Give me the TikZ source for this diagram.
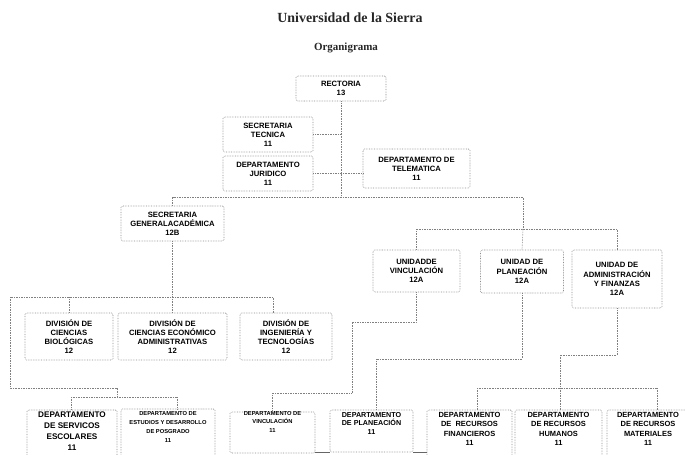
\documentclass[tikz,border=0pt]{standalone}
\usepackage{fontspec}
\setmainfont{Liberation Serif}
\setsansfont{Liberation Sans}
\begin{document}
\begin{tikzpicture}[x=1bp,y=-1bp,
 box/.style={draw=black!45, densely dotted, line width=0.65pt, rounded corners=1.5pt, align=center, inner sep=1pt, font=\sffamily\bfseries\fontsize{7.7}{9.2}\selectfont},
 boxtext/.style={align=center, inner sep=0pt, anchor=north},
 conn/.style={draw=black!50, densely dotted, line width=0.65pt}]
\clip (0,0) rectangle (685,455);
\fill[white] (0,0) rectangle (685,455);
% titles
\node[font=\bfseries\fontsize{14}{16}\selectfont, text=black!85] (title) at (350,18) {Universidad de la Sierra};
\node[font=\bfseries\fontsize{11}{13}\selectfont, text=black!85] (sub) at (346,48) {Organigrama};
% top level
\node[box, minimum width=90bp, minimum height=25bp] (rect) at (341,88.5) {RECTORIA\\13};
\node[box, minimum width=90bp, minimum height=35bp] (stec) at (268,134.5) {SECRETARIA\\TECNICA\\11};
\node[box, minimum width=90bp, minimum height=35bp] (jur) at (268,173.5) {DEPARTAMENTO\\JURIDICO\\11};
\node[box, minimum width=107bp, minimum height=39bp] (tel) at (416.5,168.5) {DEPARTAMENTO DE\\TELEMATICA\\11};
\node[box, minimum width=103bp, minimum height=35bp] (sga) at (172.5,223.5) {SECRETARIA\\GENERALACADÉMICA\\12B};
% units
\node[box, minimum width=87bp, minimum height=42bp] (uv) at (416.5,271) {UNIDADDE\\VINCULACIÓN\\12A};
\node[box, minimum width=83bp, minimum height=43bp] (up) at (522,271.5) {UNIDAD DE\\PLANEACIÓN\\12A};
\node[box, minimum width=90bp, minimum height=58bp] (ua) at (617,279) {UNIDAD DE\\ADMINISTRACIÓN\\Y FINANZAS\\12A};
% divisions
\node[box, minimum width=88bp, minimum height=47bp] (db) at (69,336.5) {DIVISIÓN DE\\CIENCIAS\\BIOLÓGICAS\\12};
\node[box, minimum width=109bp, minimum height=47bp] (de) at (172.5,336.5) {DIVISIÓN DE\\CIENCIAS ECONÓMICO\\ADMINISTRATIVAS\\12};
\node[box, minimum width=92bp, minimum height=47bp] (di) at (286,336.5) {DIVISIÓN DE\\INGENIERÍA Y\\TECNOLOGÍAS\\12};
% bottom departments
\node[box, minimum width=90bp, minimum height=52bp] (dse) at (72,436) {};
\node[boxtext, font=\sffamily\bfseries\fontsize{8.2}{11}\selectfont] (dset) at (72,412) {DEPARTAMENTO\\DE SERVICOS\\ESCOLARES\\11};
\node[box, minimum width=94bp, minimum height=52bp] (dep) at (168,435) {};
\node[boxtext, font=\sffamily\bfseries\fontsize{5.8}{9}\selectfont] (dept) at (168,411) {DEPARTAMENTO DE\\ESTUDIOS Y DESARROLLO\\DE POSGRADO\\11};
\node[box, minimum width=85bp, minimum height=41bp] (dv) at (272.5,432.5) {};
\node[boxtext, font=\sffamily\bfseries\fontsize{5.8}{8.5}\selectfont] (dvt) at (272.5,411) {DEPARTAMENTO DE\\VINCULACIÓN\\11};
\node[box, minimum width=83bp, minimum height=42bp] (dpl) at (371.5,431) {};
\node[boxtext, font=\sffamily\bfseries\fontsize{7.2}{8.5}\selectfont] (dplt) at (371.5,412) {DEPARTAMENTO\\DE PLANEACIÓN\\11};
\node[box, minimum width=85bp, minimum height=52bp] (drf) at (469.5,436) {};
\node[boxtext, font=\sffamily\bfseries\fontsize{7.5}{9.5}\selectfont] (drft) at (469.5,412) {DEPARTAMENTO\\DE\ \ RECURSOS\\FINANCIEROS\\11};
\node[box, minimum width=87bp, minimum height=52bp] (drh) at (558.5,436) {};
\node[boxtext, font=\sffamily\bfseries\fontsize{7.5}{9.5}\selectfont] (drht) at (558.5,412) {DEPARTAMENTO\\DE RECURSOS\\HUMANOS\\11};
\node[box, minimum width=86bp, minimum height=52bp] (drm) at (650,436) {};
\node[boxtext, font=\sffamily\bfseries\fontsize{7.5}{9.5}\selectfont] (drmt) at (648,412) {DEPARTAMENTO\\DE RECURSOS\\MATERIALES\\11};
% coordinates
\coordinate (h1R) at (523,197);
\coordinate (h2) at (523,229);
\coordinate (h3) at (172.5,297);
\coordinate (diDrop) at (273,297);
\coordinate (lA) at (10,297);
\coordinate (lB) at (10,388);
\coordinate (lC) at (117,388);
\coordinate (lD) at (117,397);
\coordinate (sL) at (71,397);
\coordinate (sR) at (177,397);
\coordinate (v1) at (416.5,322);
\coordinate (v2) at (352,322);
\coordinate (v3) at (352,393);
\coordinate (v4) at (272.5,393);
\coordinate (p1) at (522,359);
\coordinate (p2) at (376,359);
\coordinate (a1) at (617,355);
\coordinate (a2) at (560,355);
\coordinate (a3) at (560,388);
\coordinate (aL) at (477,388);
\coordinate (aR) at (657,388);
\coordinate (b1) at (315,452);
\coordinate (b2) at (330,452);
\coordinate (b3) at (413,452);
\coordinate (b4) at (427,452);
% connectors
\draw[conn] (rect.south) -- (rect.south |- h1R);
\draw[conn] (stec.east) -- (stec.east -| rect.south);
\draw[conn] (jur.east) -- (jur.east -| tel.west);
\draw[conn] (sga.north) |- (h1R) -- (h2);
\draw[conn] (uv.north) |- (h2) -| (ua.north);
\draw[conn] (h2) -- (up.north);
\draw[conn] (sga.south) -- (de.north);
\draw[conn] (db.north) |- (diDrop) -- (diDrop |- di.north);
\draw[conn] (db.north |- h3) -- (lA) -- (lB) -- (lC) -- (lD);
\draw[conn] (sL) -- (sR);
\draw[conn] (sL) -- (sL |- dse.north);
\draw[conn] (sR) -- (sR |- dep.north);
\draw[conn] (uv.south) -- (v1) -- (v2) -- (v3) -- (v4) -- (dv.north);
\draw[conn] (up.south) -- (p1) -- (p2) -- (p2 |- dpl.north);
\draw[conn] (ua.south) -- (a1) -- (a2) -- (a3);
\draw[conn] (aL) -- (aR);
\draw[conn] (aL) -- (aL |- drf.north);
\draw[conn] (a3) -- (drh.north -| a3);
\draw[conn] (aR) -- (aR |- drm.north);
\draw[draw=black!60, line width=0.7pt] (b1) -- (b2);
\draw[draw=black!60, line width=0.7pt] (b3) -- (b4);
\end{tikzpicture}
\end{document}
